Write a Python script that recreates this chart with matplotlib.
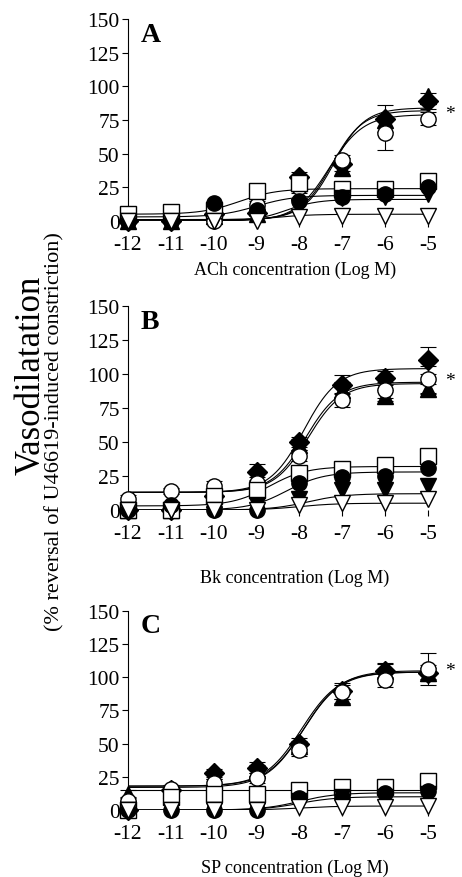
import matplotlib
matplotlib.use('Agg')
import matplotlib.pyplot as plt
import numpy as np

plt.rcParams['font.family'] = ['Liberation Serif', 'DejaVu Serif']

log_conc = [-12, -11, -10, -9, -8, -7, -6, -5]

# marker styles for the seven groups: (marker, face)
groups = ['diamond', 'tri_up', 'circle_open', 'square_open', 'circle', 'tri_down', 'tri_down_open']
styles = {
    'diamond': ('D', 'black'),
    'tri_up': ('^', 'black'),
    'circle_open': ('o', 'white'),
    'square_open': ('s', 'white'),
    'circle': ('o', 'black'),
    'tri_down': ('v', 'black'),
    'tri_down_open': ('v', 'white'),
}

# ---- Panel A: ACh ----
ach_means = {
    'diamond': [0, 0, 5, 6, 33, 42, 76, 89],
    'tri_up': [0, 0, 4, 5, 28, 39, 75, 93],
    'circle_open': [0, 0, 0, 12, 25, 45, 65, 76],
    'square_open': [5, 7, 8, 22, 28, 24, 24, 30],
    'circle': [0, 0, 13, 8, 15, 18, 20, 25],
    'tri_down': [0, 0, 0, 2, 10, 17, 18, 20],
    'tri_down_open': [0, 0, 0, 0, 3, 4, 4, 4],
}
ach_err = {
    'diamond': [0, 0, 2, 2, 3, 5, 10, 6],
    'circle_open': [0, 0, 0, 3, 4, 4, 12, 5],
    'square_open': [2, 2, 2, 3, 3, 2, 3, 5],
}
# fitted curves: bottom, top, logEC50, hill
ach_fit = {
    'diamond': (1, 84, -7.2, 1.2),
    'tri_up': (1, 82, -7.25, 1.2),
    'circle_open': (0, 79, -7.3, 1.1),
    'square_open': (5, 24, -9.4, 1.0),
    'circle': (3, 19, -9.0, 1.0),
    'tri_down': (0, 16, -8.3, 1.2),
    'tri_down_open': (0, 5, -8.6, 1.0),
}

# ---- Panel B: Bk ----
bk_means = {
    'diamond': [0, 0, 10, 28, 50, 92, 97, 110],
    'tri_up': [0, 0, 8, 25, 48, 88, 84, 89],
    'circle_open': [8, 14, 18, 20, 40, 81, 88, 96],
    'square_open': [0, 0, 10, 15, 27, 30, 33, 40],
    'circle': [0, 4, 0, 0, 20, 24, 25, 31],
    'tri_down': [0, 0, 0, 4, 8, 15, 15, 18],
    'tri_down_open': [0, 0, 0, 0, 4, 5, 5, 8],
}
bk_err = {
    'diamond': [0, 0, 2, 6, 4, 7, 5, 10],
    'tri_up': [0, 0, 2, 4, 4, 6, 4, 4],
    'circle_open': [3, 2, 3, 4, 4, 5, 6, 10],
    'square_open': [0, 0, 2, 3, 3, 3, 4, 5],
}
bk_fit = {
    'diamond': (13, 104, -7.9, 1.1),
    'tri_up': (13, 94, -7.85, 1.1),
    'circle_open': (13, 93, -7.8, 1.1),
    'square_open': (3, 32, -8.7, 1.0),
    'circle': (0, 28, -8.3, 1.0),
    'tri_down': (0, 12, -7.8, 1.0),
    'tri_down_open': (0, 5, -8.0, 1.0),
}

# ---- Panel C: SP ----
sp_means = {
    'diamond': [0, 15, 28, 32, 50, 90, 105, 103],
    'tri_up': [12, 15, 20, 30, 48, 85, 105, 103],
    'circle_open': [7, 16, 20, 24, 45, 89, 98, 106],
    'square_open': [0, 10, 12, 12, 15, 17, 17, 22],
    'circle': [0, 0, 0, 0, 9, 10, 13, 14],
    'tri_down': [0, 0, 0, 0, 7, 10, 10, 12],
    'tri_down_open': [0, 0, 0, 0, 2, 2, 2, 3],
}
sp_err = {
    'diamond': [0, 2, 3, 4, 4, 6, 6, 6],
    'tri_up': [3, 2, 3, 4, 4, 4, 5, 4],
    'circle_open': [3, 3, 3, 4, 4, 5, 5, 12],
    'square_open': [0, 2, 2, 2, 3, 3, 3, 4],
}
sp_fit = {
    'diamond': (18, 104, -7.95, 1.0),
    'tri_up': (17, 105, -7.9, 1.0),
    'circle_open': (18, 104, -7.9, 1.0),
    'square_open': (15, 15, -8.0, 1.0),
    'circle': (0, 13, -8.0, 1.0),
    'tri_down': (0, 10, -8.0, 1.0),
    'tri_down_open': (0, 3, -8.0, 1.0),
}

panels = [
    ('A', 'ACh concentration (Log M)', ach_means, ach_err, ach_fit, 80),
    ('B', 'Bk concentration (Log M)', bk_means, bk_err, bk_fit, 95),
    ('C', 'SP concentration (Log M)', sp_means, sp_err, sp_fit, 105),
]
axes_rects = [
    [0.277, 0.7472, 0.668, 0.230],
    [0.277, 0.418, 0.668, 0.2323],
    [0.277, 0.0763, 0.668, 0.2267],
]
xlabel_offsets = [-0.195, -0.29, -0.245]

fig = plt.figure(figsize=(4.62, 8.78), dpi=100)
xs = np.linspace(-12, -5, 200)
star_x = (450 - 128) / (0.668 * 462)

for (letter, xlabel, means, errs, fits, star_y), rect, xoff in zip(panels, axes_rects, xlabel_offsets):
    ax = fig.add_axes(rect)
    for g in groups:
        bottom, top, ec50, hill = fits[g]
        ys = bottom + (top - bottom) / (1 + 10 ** ((ec50 - xs) * hill))
        ax.plot(xs, ys, color='black', lw=0.8, zorder=2)
    for g in groups:
        m, face = styles[g]
        ms = 10 if m == 'D' else 11
        if g in errs:
            ax.errorbar(log_conc, means[g], yerr=errs[g], fmt='none', ecolor='black',
                        elinewidth=0.8, capsize=6, capthick=0.8, zorder=3, clip_on=False)
        ax.plot(log_conc, means[g], ls='none', marker=m, ms=ms, mfc=face, mec='black',
                mew=1.0, zorder=4, clip_on=False)
    ax.set_xlim(-12, -4.8)
    ax.set_ylim(0, 150)
    ax.set_xticks(log_conc)
    ax.set_xticklabels([str(v) for v in log_conc])
    ax.set_yticks([0, 25, 50, 75, 100, 125, 150])
    ax.spines['top'].set_visible(False)
    ax.spines['right'].set_visible(False)
    ax.spines['bottom'].set_visible(False)
    ax.spines['left'].set_linewidth(0.8)
    ax.tick_params(axis='both', direction='out', length=4, width=0.8, labelsize=15.5, pad=2)
    ax.tick_params(axis='x', pad=6)
    ax.set_xlabel(xlabel, fontsize=13)
    ax.xaxis.set_label_coords(0.54, xoff)
    ax.text(0.04, 0.925, letter, transform=ax.transAxes, fontsize=20, fontweight='bold',
            ha='left', va='center')
    ax.text(star_x, star_y, '*', transform=ax.get_yaxis_transform(), fontsize=14,
            ha='center', va='center', clip_on=False)

fig.text(0.068, 1 - 375 / 878, 'Vasodilatation', rotation=90, fontsize=25,
         ha='center', va='center')
fig.text(0.118, 1 - 432 / 878, '(% reversal of U46619-induced constriction)', rotation=90,
         fontsize=16, ha='center', va='center')

fig.savefig('out.png', dpi=100)
